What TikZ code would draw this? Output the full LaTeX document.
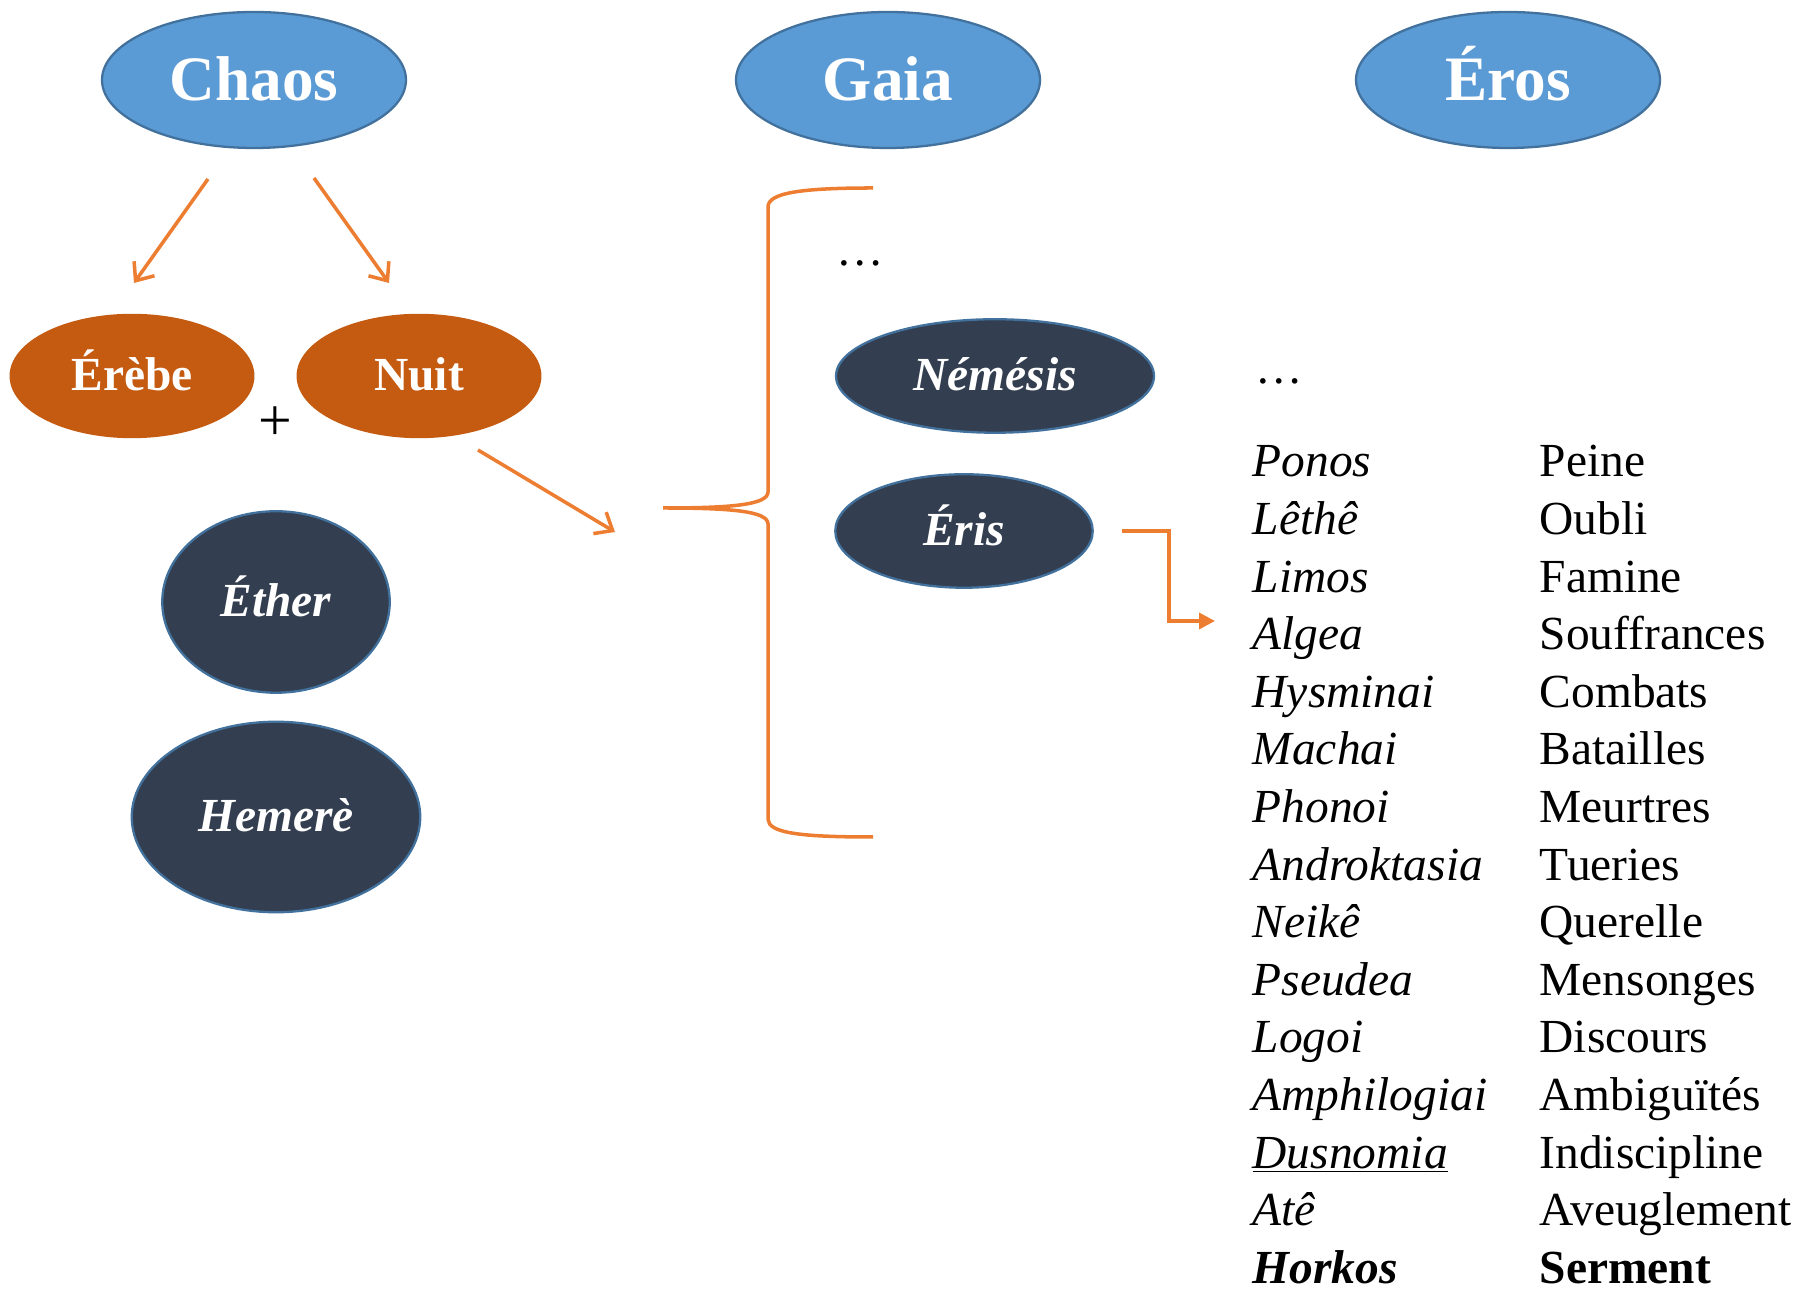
\documentclass[tikz,border=0pt]{standalone}
\usepackage{fontspec}
\setmainfont{Liberation Serif}
\usetikzlibrary{arrows.meta}
\usetikzlibrary{shapes.geometric}
\definecolor{skyblue}{HTML}{5B9BD5}
\definecolor{rimblue}{HTML}{41719C}
\definecolor{rust}{HTML}{C55A11}
\definecolor{slate}{HTML}{333F50}
\definecolor{tangerine}{HTML}{ED7D31}
\newcommand\listsize{\fontsize{27}{32}\selectfont}
\newcommand\rowstep{1.152}
\tikzstyle{primordial} = [ellipse, draw=rimblue, line width=1.3pt, fill=skyblue, text=white, font=\fontsize{36}{42}\selectfont\bfseries, minimum width=6.08cm, minimum height=2.72cm, inner sep=0pt, text height=23pt, text depth=0pt]
\tikzstyle{child} = [ellipse, draw=rust, fill=rust, text=white, font=\listsize\bfseries, minimum width=4.87cm, minimum height=2.46cm, inner sep=0pt, text height=17pt, text depth=0pt]
\tikzstyle{deity} = [ellipse, draw=rimblue, line width=1.3pt, fill=slate, text=white, font=\listsize\bfseries\itshape, inner sep=0pt, text height=17pt, text depth=0pt]
\tikzstyle{arrow} = [tangerine, line width=2pt, -{Straight Barb[length=3mm,width=5mm]}]
\tikzstyle{elbow} = [tangerine, line width=2pt, -{Triangle[length=9pt,width=9pt]}]
\tikzstyle{greek} = [anchor=base west, inner sep=0pt, font=\listsize\itshape]
\tikzstyle{french} = [anchor=base west, inner sep=0pt, font=\listsize]

\begin{document}
\begin{tikzpicture}[thick, scale = 1]
	    \useasboundingbox (0,0) rectangle (36.02,25.84);

	    \node[primordial] (chaos) at (5.08,24.24) {Chaos};
	    \node[primordial] (gaia) at (17.76,24.24) {Gaia};
	    \node[primordial] (eros) at (30.16,24.24) {Éros};

	    \node[child] (erebe) at (2.64,18.32) {Érèbe};
	    \node[child] (nuit) at (8.38,18.32) {Nuit};
	    \node[font=\fontsize{34}{40}\selectfont] (plus) at (5.5,17.36) {+};

	    \node[deity, minimum width=4.55cm, minimum height=3.63cm] (ether) at (5.52,13.8) {Éther};
	    \node[deity, minimum width=5.77cm, minimum height=3.81cm] (hemere) at (5.52,9.5) {Hemerè};

	    \node[deity, minimum width=6.36cm, minimum height=2.27cm] (nemesis) at (19.9,18.32) {Némésis};
	    \node[deity, minimum width=5.15cm, minimum height=2.27cm] (eris) at (19.28,15.22) {Éris};

	    \node[anchor=base, font=\listsize] (dotsa) at (17.2,20.52) {…};
	    \node[anchor=base west, inner sep=0pt, font=\listsize] (dotsb) at (25.1,18.16) {…};

	    % connectors
	    \coordinate (chaosl) at (4.16,22.26);
	    \coordinate (chaosr) at (6.28,22.28);
	    \coordinate (erebein) at (2.68,20.18);
	    \coordinate (nuitin) at (7.78,20.18);
	    \coordinate (nuitout) at (9.56,16.84);
	    \coordinate (bracein) at (12.3,15.2);
	    \draw[arrow] (chaosl)--(erebein);
	    \draw[arrow] (chaosr)--(nuitin);
	    \draw[arrow] (nuitout)--(bracein);

	    \coordinate (brtop) at (17.46,22.08);
	    \coordinate (brtip) at (13.26,15.68);
	    \coordinate (brbot) at (17.46,9.1);
	    \draw[tangerine, line width=2pt] (brtop) .. controls (16.0,22.08) and (15.36,21.98) .. (15.36,21.7) -- (15.36,16.0)
	        .. controls (15.36,15.74) and (14.6,15.68) .. (brtip)
	        .. controls (14.6,15.68) and (15.36,15.62) .. (15.36,15.36) -- (15.36,9.46)
	        .. controls (15.36,9.18) and (16.0,9.1) .. (brbot);

	    \coordinate (erisout) at (22.44,15.22);
	    \coordinate (listin) at (24.3,13.42);
	    \draw[elbow] (erisout) -- ++(0.94,0) |- (listin);

	    \foreach \gr/\fr [count=\i from 0] in {Ponos/Peine, Lêthê/Oubli, Limos/Famine, Algea/Souffrances,
	        Hysminai/Combats, Machai/Batailles, Phonoi/Meurtres, Androktasia/Tueries, Neikê/Querelle,
	        Pseudea/Mensonges, Logoi/Discours, Amphilogiai/Ambiguïtés, \underline{Dusnomia}/Indiscipline,
	        Atê/Aveuglement, \textbf{Horkos}/\textbf{Serment}}
	    {
	        \node[greek] (greek\i) at (25.04,{16.3-\rowstep*\i}) {\gr};
	        \node[french] (french\i) at (30.78,{16.3-\rowstep*\i}) {\fr};
	    }
	\end{tikzpicture}
\end{document}
